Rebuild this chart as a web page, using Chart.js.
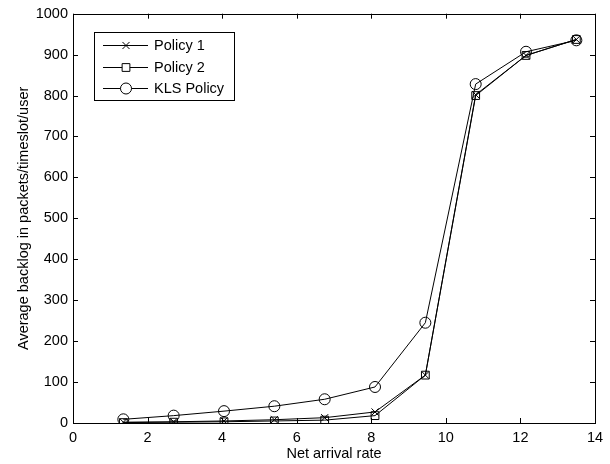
<!DOCTYPE html>
<html><head><meta charset="utf-8">
<script src="https://cdn.jsdelivr.net/npm/chart.js@4/dist/chart.umd.min.js"></script>
<style>html,body{margin:0;padding:0;background:#fff}#wrap{width:610px;height:464px}</style>
</head><body><div id="wrap"><canvas id="c" width="610" height="464"></canvas></div>
<script>
const arrivalRates = [1.35, 2.7, 4.05, 5.4, 6.75, 8.1, 9.45, 10.8, 12.15, 13.5];
const policy1 = [2, 3, 5, 8, 13, 27, 117, 802, 898, 937];
const policy2 = [1, 2, 3, 5, 7, 18, 117, 800, 898, 937];
const klsPolicy = [9, 18, 29, 41, 58, 88, 245, 828, 907, 935];
const seriesNames = ['Policy 1', 'Policy 2', 'KLS Policy'];
const xTicks = [0, 2, 4, 6, 8, 10, 12, 14];
const yTicks = [0, 100, 200, 300, 400, 500, 600, 700, 800, 900, 1000];

const FONT = 'Liberation Sans, Arial, Helvetica, sans-serif';
const FS = 14.5;
function pts(ys){ return arrivalRates.map((x,i)=>({x:x,y:ys[i]})); }

const frame = {
  id:'frame',
  afterDraw(chart){
    const ctx = chart.ctx, a = chart.chartArea, xs = chart.scales.x, ys = chart.scales.y;
    ctx.save();
    ctx.strokeStyle = '#000'; ctx.lineWidth = 1;
    ctx.strokeRect(Math.round(a.left)+0.5, Math.round(a.top)+0.5, Math.round(a.right-a.left), Math.round(a.bottom-a.top));
    const L = 5;
    ctx.beginPath();
    xTicks.forEach(v=>{ const px = Math.round(xs.getPixelForValue(v))+0.5;
      ctx.moveTo(px, a.bottom); ctx.lineTo(px, a.bottom-L);
      ctx.moveTo(px, a.top); ctx.lineTo(px, a.top+L); });
    yTicks.forEach(v=>{ const py = Math.round(ys.getPixelForValue(v))+0.5;
      ctx.moveTo(a.left, py); ctx.lineTo(a.left+L, py);
      ctx.moveTo(a.right, py); ctx.lineTo(a.right-L, py); });
    ctx.stroke();
    // legend
    const bx = 94.5, by = 32.5, bw = 140, bh = 68;
    ctx.fillStyle = '#fff'; ctx.fillRect(bx, by, bw, bh);
    ctx.strokeRect(bx, by, bw, bh);
    const rowsY = [45, 67, 88];
    ctx.font = FS + 'px ' + FONT; ctx.textBaseline = 'middle'; ctx.textAlign = 'left';
    chart.data.datasets.forEach((ds,i)=>{
      const y = rowsY[i] + 0.5;
      ctx.strokeStyle = '#000'; ctx.lineWidth = 1;
      ctx.beginPath(); ctx.moveTo(103, y); ctx.lineTo(148, y); ctx.stroke();
      ctx.fillStyle = '#fff';
      Chart.helpers.drawPoint(ctx, {pointStyle: ds.pointStyle, radius: ds.pointRadius, borderWidth:1, rotation:0}, 126, y);
      ctx.fillStyle = '#000';
      ctx.fillText(ds.label, 154, y);
    });
    ctx.restore();
  }
};

new Chart(document.getElementById('c'), {
  type: 'line',
  data: {
    datasets: [
      {label: seriesNames[0], data: pts(policy1), pointStyle: 'crossRot', pointRadius: 5},
      {label: seriesNames[1], data: pts(policy2), pointStyle: 'rect', pointRadius: 5.5},
      {label: seriesNames[2], data: pts(klsPolicy), pointStyle: 'circle', pointRadius: 5.5}
    ].map(d=>Object.assign(d,{borderColor:'#000', borderWidth:1, backgroundColor:'rgba(0,0,0,0)', pointBorderColor:'#000', pointBorderWidth:1, pointBackgroundColor:'rgba(0,0,0,0)', fill:false, tension:0}))
  },
  options: {
    responsive: false, animation: false,
    layout: {padding: {left: 0, top: 13, right: 15, bottom: 0}},
    plugins: {legend: {display:false}, tooltip: {enabled:false}},
    scales: {
      x: {type:'linear', min:0, max:14,
        afterBuildTicks(s){ s.ticks = xTicks.map(v=>({value:v})); },
        afterFit(s){ s.height = 41; },
        grid:{display:false, drawTicks:false}, border:{display:false},
        ticks:{color:'#000', font:{family:FONT, size:FS}, padding:6, maxRotation:0, callback:v=>String(v)},
        title:{display:true, text:'Net arrival rate', color:'#000', font:{family:FONT, size:FS}, padding:{top:0,bottom:1}}
      },
      y: {type:'linear', min:0, max:1000,
        afterBuildTicks(s){ s.ticks = yTicks.map(v=>({value:v})); },
        afterFit(s){ s.width = 73; },
        grid:{display:false, drawTicks:false}, border:{display:false},
        ticks:{color:'#000', font:{family:FONT, size:FS}, padding:5, callback:v=>String(v)},
        title:{display:true, text:'Average backlog in packets/timeslot/user', color:'#000', font:{family:FONT, size:FS}, padding:{top:15,bottom:0}}
      }
    }
  },
  plugins:[frame]
});
</script></body></html>
